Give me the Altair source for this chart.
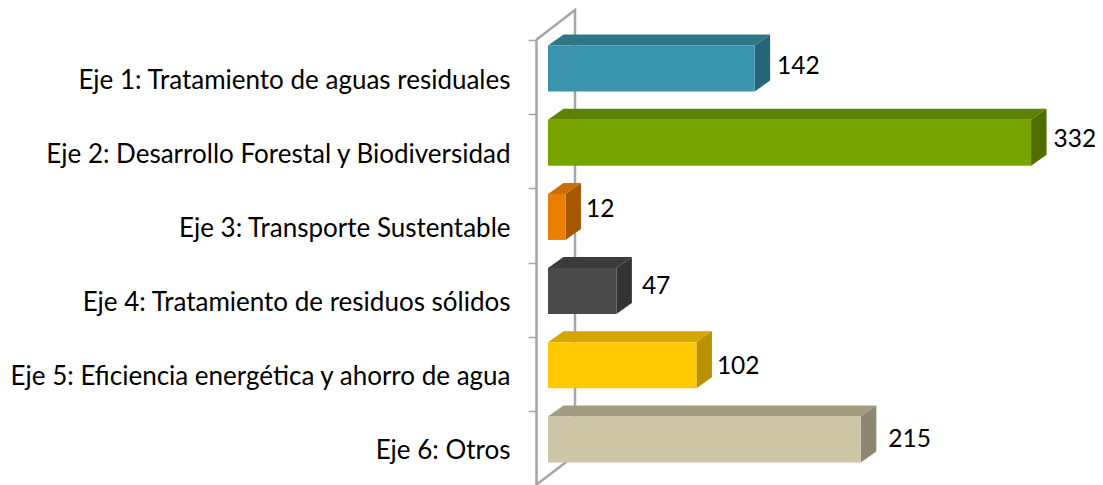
import json
import altair as alt
import pandas as pd

categories = ["Eje 1: Tratamiento de aguas residuales", "Eje 2: Desarrollo Forestal y Biodiversidad",
              "Eje 3: Transporte Sustentable", "Eje 4: Tratamiento de residuos sólidos",
              "Eje 5: Eficiencia energética y ahorro de agua", "Eje 6: Otros"]
values = [142, 332, 12, 47, 102, 215]
front_colors = ["#3a94ae", "#76a500", "#ea7e00", "#4a4a4a", "#ffc800", "#cdc5a5"]
top_colors = ["#2d7788", "#5d8100", "#c96f03", "#3c3c3c", "#d4a700", "#a29c80"]
side_colors = ["#26657a", "#4f6e00", "#a45800", "#343434", "#b89000", "#8c8770"]

# styling / geometry constants
PX_X = 1.455
STEP = 74.17
DX = 15.5 / PX_X
DY = 11 / STEP
BAR_TOP = 5.6 / STEP
BAR_H = 46 / STEP
W, H = 559, 445
XLO, XHI = -12 / PX_X, (W - 12) / PX_X
label_dx = [7, 7, 5, 10, 5, 12]
label_dy = [-2, -3, -7, -4, 2, 1]
FONT = "Lato"
FS = 26
VALUE_FS = 24.5
GRAY = "#a6a6a6"

x_scale = alt.Scale(domain=[XLO, XHI], nice=False, zero=False)
y_scale = alt.Scale(domain=[0, H / STEP], reverse=True, nice=False, zero=False)

front, faces, labels = [], [], []
for i, v in enumerate(values):
    t = i + BAR_TOP
    b = t + BAR_H
    front.append(dict(x=0, x2=v, y=t, y2=b, c=front_colors[i]))
    for xx, yy, yy2 in [(0, t, t), (DX, t - DY, t), (v, t - DY, t), (v + DX, t - DY, t - DY)]:
        faces.append(dict(k=f"t{i}", x=xx, y=yy, y2=yy2, c=top_colors[i]))
    for xx, yy, yy2 in [(v, t, b), (v + DX, t - DY, b - DY)]:
        faces.append(dict(k=f"s{i}", x=xx, y=yy, y2=yy2, c=side_colors[i]))
    labels.append(dict(x=v + DX + label_dx[i] / PX_X, y=(t + b) / 2 + label_dy[i] / STEP, t=str(v)))

wall = pd.DataFrame([
    dict(x=XLO, y=0, k="a"), dict(x=27 / PX_X, y=-30 / STEP, k="a"),
    dict(x=27 / PX_X, y=5.6, k="a"), dict(x=XLO, y=6, k="a"),
])

label_expr = "(" + json.dumps(categories, ensure_ascii=False) + ")[datum.value] || ''"
y_axis = alt.Axis(values=list(range(7)), labelExpr=label_expr, title=None, grid=False, domainColor=GRAY,
                  domainWidth=2.5, tickColor=GRAY, tickWidth=1.5, tickSize=8, labelPadding=18, labelOffset=40,
                  labelFont=FONT, labelFontSize=FS, labelColor="#000000", labelLimit=600, labelBaseline="middle")

walls = alt.Chart(wall).mark_line(color=GRAY, strokeWidth=2.5, clip=False, order=False).encode(
    x=alt.X("x:Q", scale=x_scale, axis=None),
    y=alt.Y("y:Q", scale=y_scale, axis=y_axis),
    order="idx:Q",
).transform_window(idx="row_number()")

area_layer = alt.Chart(pd.DataFrame(faces)).mark_area(orient="vertical", clip=False).encode(
    x=alt.X("x:Q", scale=x_scale), y=alt.Y("y:Q", scale=y_scale), y2="y2:Q",
    color=alt.Color("c:N", scale=None), detail="k:N",
)
bars = alt.Chart(pd.DataFrame(front)).mark_rect(clip=False).encode(
    x=alt.X("x:Q", scale=x_scale), x2="x2:Q", y=alt.Y("y:Q", scale=y_scale), y2="y2:Q",
    color=alt.Color("c:N", scale=None),
)
text = alt.Chart(pd.DataFrame(labels)).mark_text(align="left", baseline="middle", font=FONT, fontSize=VALUE_FS, color="#000000").encode(
    x=alt.X("x:Q", scale=x_scale), y=alt.Y("y:Q", scale=y_scale), text="t:N",
)

chart = alt.layer(walls, area_layer, bars, text).properties(
    width=W, height=H, autosize=alt.AutoSizeParams(type="none"),
    padding={"left": 528, "top": 32, "right": 0, "bottom": 0},
).configure_view(stroke=None).configure_axis(grid=False)

chart.save("out.html", embed_options={"renderer": "svg", "actions": False})
